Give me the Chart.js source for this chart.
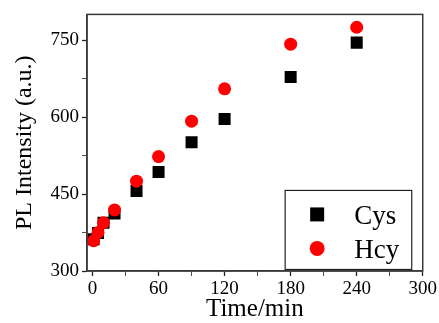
<!DOCTYPE html>
<html>
<head>
<meta charset="utf-8">
<script src="https://cdn.jsdelivr.net/npm/chart.js@4/dist/chart.umd.min.js"></script>
<style>
  html, body { margin: 0; padding: 0; background: #fff; }
  #wrap { width: 439px; height: 323px; }
</style>
</head>
<body>
<div id="wrap"><canvas id="plChart"></canvas></div>
<script>
// time points (min) and PL intensity
const times = [1, 5, 10, 20, 40, 60, 90, 120, 180, 240];
const cysValues = [362, 374, 394, 412, 456, 493, 551, 596, 678, 745];
const hcyValues = [359, 375, 394, 419, 475, 523, 592, 655, 742, 775];
const xTicks = [0, 30, 60, 90, 120, 150, 180, 210, 240, 270, 300];
const yTicks = [300, 375, 450, 525, 600, 675, 750];

const serif = "'Liberation Serif', 'DejaVu Serif', serif";

const toPoints = (vals) => vals.map((v, i) => ({ x: times[i], y: v }));

// frame + boxed legend drawn in the lower right of the plot
const framePlugin = {
  id: "frameLegend",
  afterDraw(chart) {
    const { ctx, chartArea: a } = chart;
    ctx.save();
    ctx.strokeStyle = "#3a3a3a";
    ctx.lineWidth = 1.5;
    ctx.strokeRect(a.left, a.top, a.right - a.left, a.bottom - a.top);

    const xs = chart.scales.x, ys = chart.scales.y;
    const bx = xs.getPixelForValue(175), by = ys.getPixelForValue(457);
    const bw = xs.getPixelForValue(290) - bx, bh = ys.getPixelForValue(303) - by;
    ctx.fillStyle = "#fff";
    ctx.fillRect(bx, by, bw, bh);
    ctx.strokeStyle = "#222";
    ctx.lineWidth = 1.2;
    ctx.strokeRect(bx, by, bw, bh);

    ctx.font = "27px " + serif;
    ctx.textBaseline = "alphabetic";
    ctx.textAlign = "left";
    chart.data.datasets.forEach((ds, i) => {
      const cy = by + 24 + i * 34;
      ctx.fillStyle = ds.backgroundColor;
      if (ds.pointStyle === "rect") {
        ctx.fillRect(bx + 25, cy - 7, 14, 14);
      } else {
        ctx.beginPath();
        ctx.arc(bx + 32, cy, 7.5, 0, Math.PI * 2);
        ctx.fill();
      }
      ctx.fillStyle = "#000";
      ctx.fillText(ds.label, bx + 69, cy + 10);
    });
    ctx.restore();
  }
};

const ctx = document.getElementById("plChart").getContext("2d");
new Chart(ctx, {
  type: "scatter",
  data: {
    datasets: [
      {
        label: "Cys",
        data: toPoints(cysValues),
        pointStyle: "rect",
        pointRadius: 8.5,
        pointHoverRadius: 8.5,
        backgroundColor: "#000000",
        borderColor: "#000000",
        borderWidth: 0,
        order: 1,
      },
      {
        label: "Hcy",
        data: toPoints(hcyValues),
        pointStyle: "circle",
        pointRadius: 6.5,
        pointHoverRadius: 6.5,
        backgroundColor: "#ff0000",
        borderColor: "#ff0000",
        borderWidth: 0,
        order: 0,
      },
    ],
  },
  options: {
    responsive: true,
    maintainAspectRatio: false,
    animation: false,
    layout: { padding: { top: 14, right: 16, left: 0, bottom: 0 } },
    plugins: { legend: { display: false }, tooltip: { enabled: false } },
    scales: {
      x: {
        type: "linear",
        min: -5,
        max: 300,
        afterBuildTicks: (s) => { s.ticks = xTicks.map((v) => ({ value: v })); },
        afterFit: (s) => { s.height = 52; },
        ticks: {
          color: "#000",
          font: { family: serif, size: 19 },
          padding: 2,
          maxRotation: 0,
          autoSkip: false,
          callback: (v) => (v % 60 === 0 ? v : ""),
        },
        grid: {
          drawOnChartArea: false,
          drawTicks: true,
          tickLength: 5,
          tickColor: "#222",
          tickWidth: (c) => (c.tick && c.tick.value % 60 === 0 ? 1.3 : 0.8),
        },
        border: { display: true, color: "#3a3a3a", width: 1.5 },
        title: {
          display: true,
          text: "Time/min",
          color: "#000",
          font: { family: serif, size: 25, lineHeight: 1 },
          padding: { top: 0, bottom: 1 },
        },
      },
      y: {
        type: "linear",
        min: 300,
        max: 800,
        afterBuildTicks: (s) => { s.ticks = yTicks.map((v) => ({ value: v })); },
        afterFit: (s) => { s.width = 87; },
        ticks: {
          color: "#000",
          font: { family: serif, size: 19 },
          padding: 3,
          autoSkip: false,
          callback: (v) => (v % 150 === 0 ? v : ""),
        },
        grid: {
          drawOnChartArea: false,
          drawTicks: true,
          tickLength: 5,
          tickColor: "#222",
          tickWidth: (c) => (c.tick && c.tick.value % 150 === 0 ? 1.3 : 0.8),
        },
        border: { display: true, color: "#3a3a3a", width: 1.5 },
        title: {
          display: true,
          text: "PL Intensity (a.u.)",
          color: "#000",
          font: { family: serif, size: 24, lineHeight: 1 },
          padding: { top: 13, bottom: 0 },
        },
      },
    },
  },
  plugins: [framePlugin],
});
</script>
</body>
</html>
